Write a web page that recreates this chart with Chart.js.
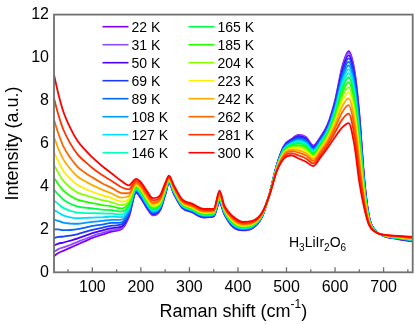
<!DOCTYPE html>
<html>
<head>
<meta charset="utf-8">
<script src="https://cdn.jsdelivr.net/npm/chart.js@4.4.0/dist/chart.umd.min.js"></script>
<style>
  html, body { margin: 0; padding: 0; background: #fff; }
  #wrap { position: relative; width: 415px; height: 324px; }
</style>
</head>
<body>
<div id="wrap"><canvas id="raman"></canvas></div>
<script>
// Raman shift grid (cm-1) shared by every spectrum
const shift = [21, 30, 40, 55, 70, 85, 100, 120, 140, 160, 175, 190, 200, 212, 225, 240, 250, 258, 268, 285,
  305, 330, 350, 362, 372, 390, 410, 430, 450, 465, 480, 495, 510, 525, 540, 555, 570, 585, 600, 615,
  628, 640, 650, 660, 670, 685, 700, 730, 760];

const temps = ["22 K", "31 K", "50 K", "69 K", "89 K", "108 K", "127 K", "146 K",
  "165 K", "185 K", "204 K", "223 K", "242 K", "262 K", "281 K", "300 K"];

const colors = ["#8000ff", "#8a4dff", "#4b00ff", "#1a3cff", "#0066ff", "#0099ff", "#00ddff", "#00ffbb",
  "#00ff44", "#22ff00", "#88ff00", "#ffee00", "#ffaa00", "#ff6600", "#ff3300", "#ff0000"];

const int22 = [0.75, 0.9, 1.0, 1.15, 1.3, 1.45, 1.6, 1.75, 1.9, 2.0, 2.55, 3.7, 3.45, 3.0, 2.65, 2.9, 3.6, 4.15, 3.65, 3.0,
  2.8, 2.55, 2.6, 3.25, 2.7, 2.1, 1.95, 2.05, 2.6, 3.65, 5.0, 5.9, 6.2, 6.4, 6.3, 5.9, 6.3, 6.9, 8.0, 9.6,
  10.3, 9.4, 7.4, 4.4, 2.6, 1.9, 1.7, 1.55, 1.45];
const int31 = [0.95, 1.08, 1.16, 1.28, 1.42, 1.55, 1.69, 1.83, 1.96, 2.05, 2.59, 3.72, 3.47, 3.02, 2.67, 2.92, 3.61, 4.16, 3.66, 3.01,
  2.81, 2.56, 2.61, 3.26, 2.71, 2.11, 1.96, 2.06, 2.6, 3.65, 4.99, 5.89, 6.18, 6.37, 6.27, 5.88, 6.28, 6.87, 7.96, 9.53,
  10.22, 9.32, 7.32, 4.37, 2.59, 1.9, 1.7, 1.55, 1.45];
const int50 = [1.25, 1.34, 1.38, 1.48, 1.58, 1.7, 1.82, 1.94, 2.06, 2.13, 2.64, 3.74, 3.49, 3.05, 2.7, 2.94, 3.63, 4.17, 3.67, 3.02,
  2.82, 2.57, 2.62, 3.28, 2.72, 2.13, 1.97, 2.07, 2.61, 3.65, 4.98, 5.86, 6.16, 6.34, 6.23, 5.84, 6.24, 6.84, 7.9, 9.43,
  10.1, 9.19, 7.21, 4.32, 2.58, 1.9, 1.7, 1.56, 1.46];
const int69 = [1.6, 1.65, 1.66, 1.71, 1.78, 1.88, 1.98, 2.07, 2.17, 2.23, 2.7, 3.77, 3.53, 3.08, 2.73, 2.97, 3.66, 4.19, 3.69, 3.04,
  2.84, 2.59, 2.64, 3.31, 2.74, 2.15, 1.99, 2.09, 2.62, 3.65, 4.97, 5.84, 6.12, 6.29, 6.18, 5.8, 6.2, 6.79, 7.83, 9.31,
  9.96, 9.05, 7.08, 4.26, 2.56, 1.9, 1.7, 1.57, 1.47];
const int89 = [2.0, 2.0, 1.96, 1.97, 2.01, 2.08, 2.16, 2.22, 2.3, 2.33, 2.77, 3.8, 3.56, 3.12, 2.77, 3.0, 3.68, 4.2, 3.71, 3.06,
  2.86, 2.61, 2.65, 3.33, 2.76, 2.17, 2.01, 2.1, 2.63, 3.64, 4.96, 5.81, 6.09, 6.24, 6.13, 5.76, 6.16, 6.74, 7.75, 9.18,
  9.8, 8.88, 6.93, 4.19, 2.54, 1.89, 1.71, 1.57, 1.48];
const int108 = [2.45, 2.39, 2.31, 2.27, 2.26, 2.3, 2.35, 2.39, 2.44, 2.45, 2.85, 3.83, 3.6, 3.16, 2.81, 3.04, 3.71, 4.22, 3.73, 3.08,
  2.88, 2.63, 2.67, 3.36, 2.78, 2.2, 2.03, 2.12, 2.64, 3.64, 4.94, 5.78, 6.05, 6.18, 6.07, 5.71, 6.11, 6.68, 7.66, 9.03,
  9.63, 8.7, 6.76, 4.12, 2.52, 1.89, 1.71, 1.58, 1.49];
const int127 = [2.9, 2.78, 2.65, 2.56, 2.52, 2.53, 2.55, 2.56, 2.59, 2.57, 2.93, 3.87, 3.64, 3.2, 2.85, 3.08, 3.74, 4.24, 3.75, 3.1,
  2.9, 2.65, 2.69, 3.39, 2.8, 2.23, 2.05, 2.14, 2.65, 3.64, 4.92, 5.75, 6.01, 6.12, 6.01, 5.66, 6.06, 6.62, 7.57, 8.88,
  9.45, 8.51, 6.59, 4.04, 2.5, 1.89, 1.71, 1.59, 1.5];
const int146 = [3.35, 3.18, 3.0, 2.86, 2.78, 2.76, 2.76, 2.74, 2.73, 2.69, 3.01, 3.9, 3.68, 3.25, 2.9, 3.12, 3.77, 4.26, 3.77, 3.12,
  2.92, 2.67, 2.71, 3.42, 2.82, 2.25, 2.07, 2.16, 2.66, 3.63, 4.91, 5.72, 5.97, 6.06, 5.95, 5.61, 6.01, 6.56, 7.48, 8.72,
  9.27, 8.32, 6.41, 3.97, 2.48, 1.88, 1.72, 1.6, 1.51];
const int165 = [3.85, 3.62, 3.39, 3.19, 3.06, 3.01, 2.98, 2.92, 2.89, 2.83, 3.1, 3.94, 3.73, 3.29, 2.94, 3.16, 3.8, 4.28, 3.8, 3.15,
  2.95, 2.7, 2.73, 3.45, 2.85, 2.28, 2.1, 2.18, 2.67, 3.63, 4.89, 5.68, 5.92, 6.0, 5.88, 5.55, 5.95, 6.5, 7.38, 8.55,
  9.07, 8.12, 6.23, 3.89, 2.45, 1.88, 1.72, 1.61, 1.52];
const int185 = [4.4, 4.1, 3.81, 3.55, 3.37, 3.29, 3.22, 3.13, 3.07, 2.97, 3.2, 3.98, 3.77, 3.35, 3.0, 3.2, 3.84, 4.3, 3.82, 3.17,
  2.97, 2.72, 2.75, 3.49, 2.87, 2.32, 2.12, 2.2, 2.69, 3.63, 4.87, 5.64, 5.88, 5.92, 5.8, 5.49, 5.89, 6.42, 7.27, 8.37,
  8.85, 7.89, 6.02, 3.8, 2.43, 1.88, 1.72, 1.61, 1.54];
const int204 = [5.0, 4.62, 4.27, 3.94, 3.71, 3.59, 3.49, 3.36, 3.26, 3.13, 3.3, 4.03, 3.83, 3.4, 3.05, 3.25, 3.88, 4.33, 3.85, 3.2,
  3.0, 2.75, 2.78, 3.53, 2.9, 2.35, 2.15, 2.23, 2.7, 3.62, 4.85, 5.6, 5.82, 5.85, 5.72, 5.42, 5.82, 6.35, 7.14, 8.17,
  8.61, 7.64, 5.79, 3.7, 2.4, 1.87, 1.73, 1.63, 1.55];
const int223 = [5.6, 5.15, 4.73, 4.34, 4.06, 3.89, 3.75, 3.59, 3.45, 3.29, 3.41, 4.07, 3.88, 3.46, 3.11, 3.3, 3.92, 4.35, 3.88, 3.23,
  3.03, 2.78, 2.8, 3.57, 2.93, 2.39, 2.18, 2.25, 2.71, 3.62, 4.83, 5.56, 5.77, 5.77, 5.64, 5.35, 5.75, 6.27, 7.02, 7.96,
  8.38, 7.39, 5.56, 3.6, 2.37, 1.87, 1.73, 1.64, 1.56];
const int242 = [6.3, 5.76, 5.27, 4.8, 4.45, 4.24, 4.06, 3.85, 3.67, 3.48, 3.54, 4.13, 3.94, 3.53, 3.18, 3.36, 3.96, 4.38, 3.91, 3.26,
  3.06, 2.81, 2.83, 3.61, 2.96, 2.43, 2.21, 2.28, 2.73, 3.62, 4.8, 5.51, 5.71, 5.68, 5.54, 5.28, 5.68, 6.18, 6.88, 7.73,
  8.1, 7.1, 5.3, 3.48, 2.34, 1.87, 1.73, 1.65, 1.58];
const int262 = [7.1, 6.46, 5.88, 5.32, 4.9, 4.64, 4.42, 4.15, 3.93, 3.69, 3.68, 4.19, 4.01, 3.6, 3.25, 3.43, 4.01, 4.41, 3.95, 3.3,
  3.1, 2.85, 2.86, 3.66, 3.0, 2.48, 2.25, 2.31, 2.75, 3.61, 4.77, 5.45, 5.64, 5.57, 5.44, 5.19, 5.59, 6.07, 6.72, 7.46,
  7.78, 6.77, 5.0, 3.35, 2.3, 1.86, 1.74, 1.66, 1.6];
const int281 = [8.1, 7.34, 6.66, 5.98, 5.48, 5.15, 4.86, 4.53, 4.25, 3.96, 3.86, 4.27, 4.1, 3.7, 3.35, 3.51, 4.08, 4.45, 4.0, 3.35,
  3.15, 2.9, 2.9, 3.73, 3.05, 2.54, 2.3, 2.35, 2.77, 3.61, 4.74, 5.38, 5.55, 5.44, 5.3, 5.07, 5.47, 5.94, 6.52, 7.12,
  7.39, 6.35, 4.62, 3.18, 2.25, 1.86, 1.74, 1.68, 1.62];
const int300 = [9.2, 8.3, 7.5, 6.7, 6.1, 5.7, 5.35, 4.95, 4.6, 4.25, 4.05, 4.35, 4.2, 3.8, 3.45, 3.6, 4.15, 4.5, 4.05, 3.4,
  3.2, 2.95, 2.95, 3.8, 3.1, 2.6, 2.35, 2.4, 2.8, 3.6, 4.7, 5.3, 5.45, 5.3, 5.15, 4.95, 5.35, 5.8, 6.3, 6.75,
  6.95, 5.9, 4.2, 3.0, 2.2, 1.85, 1.75, 1.7, 1.65];

const spectra = [int22, int31, int50, int69, int89, int108, int127, int146,
  int165, int185, int204, int223, int242, int262, int281, int300];

const xTicks = [100, 200, 300, 400, 500, 600, 700];
const xMinorTicks = [50, 150, 250, 350, 450, 550, 650, 750];
const yTicks = [0, 2, 4, 6, 8, 10, 12];

const FONT = "'Liberation Sans', Arial, sans-serif";

// datasets in reverse so the hottest spectrum ends up drawn on top
const datasets = spectra.map((vals, i) => ({
  label: temps[i],
  data: vals.map((v, j) => ({ x: shift[j], y: v })),
  borderColor: colors[i],
  backgroundColor: colors[i],
  borderWidth: 1.8,
  pointRadius: 0,
  cubicInterpolationMode: "monotone",
})).reverse();

const decorPlugin = {
  id: "decor",
  afterDraw(chart) {
    const { ctx, chartArea: a, scales: { x } } = chart;
    ctx.save();

    // frame
    ctx.strokeStyle = "#707070";
    ctx.lineWidth = 1.8;
    ctx.strokeRect(a.left, a.top, a.right - a.left, a.bottom - a.top);

    // inward ticks on the bottom axis
    ctx.lineWidth = 1.3;
    ctx.beginPath();
    xTicks.forEach((v) => {
      const px = x.getPixelForValue(v);
      ctx.moveTo(px, a.bottom);
      ctx.lineTo(px, a.bottom - 5);
    });
    xMinorTicks.forEach((v) => {
      const px = x.getPixelForValue(v);
      ctx.moveTo(px, a.bottom);
      ctx.lineTo(px, a.bottom - 3);
    });
    ctx.stroke();

    // legend, two columns of eight
    ctx.font = "14px " + FONT;
    ctx.fillStyle = "#000";
    ctx.textBaseline = "middle";
    ctx.textAlign = "left";
    temps.forEach((t, i) => {
      const col = Math.floor(i / 8);
      const row = i % 8;
      const lx = col === 0 ? 102.5 : 188.5;
      const ly = 26.7 + row * 18;
      ctx.strokeStyle = colors[i];
      ctx.lineWidth = 1.6;
      ctx.beginPath();
      ctx.moveTo(lx, ly);
      ctx.lineTo(lx + 26, ly);
      ctx.stroke();
      ctx.fillText(t, lx + 29, ly + 1);
    });

    // sample label H3LiIr2O6
    let tx = 289;
    const ty = 247;
    const parts = [["H", 0], ["3", 1], ["LiIr", 0], ["2", 1], ["O", 0], ["6", 1]];
    ctx.textBaseline = "alphabetic";
    parts.forEach(([s, sub]) => {
      ctx.font = (sub ? "10px " : "14px ") + FONT;
      ctx.fillText(s, tx, ty + (sub ? 3.5 : 0));
      tx += ctx.measureText(s).width;
    });

    // axis titles
    ctx.font = "18px " + FONT;
    ctx.textBaseline = "middle";
    const main = "Raman shift (cm";
    const sup = "-1";
    const close = ")";
    const wMain = ctx.measureText(main).width;
    const wClose = ctx.measureText(close).width;
    ctx.font = "12px " + FONT;
    const wSup = ctx.measureText(sup).width;
    const total = wMain + wSup + wClose;
    let sx = (a.left + a.right) / 2 - total / 2;
    const sy = 312;
    ctx.font = "18px " + FONT;
    ctx.fillText(main, sx, sy);
    sx += wMain;
    ctx.font = "12px " + FONT;
    ctx.fillText(sup, sx, sy - 7);
    sx += wSup;
    ctx.font = "18px " + FONT;
    ctx.fillText(close, sx, sy);

    ctx.save();
    ctx.translate(13, (a.top + a.bottom) / 2);
    ctx.rotate(-Math.PI / 2);
    ctx.textAlign = "center";
    ctx.fillText("Intensity (a.u.)", 0, 0);
    ctx.restore();

    ctx.restore();
  },
};

new Chart(document.getElementById("raman"), {
  type: "line",
  data: { datasets },
  options: {
    responsive: true,
    maintainAspectRatio: false,
    animation: false,
    events: [],
    layout: { padding: { top: 7.5, right: 2.3, left: 0, bottom: 0 } },
    plugins: {
      legend: { display: false },
      tooltip: { enabled: false },
    },
    scales: {
      x: {
        type: "linear",
        min: 21,
        max: 760,
        grid: { display: false, drawTicks: false },
        border: { display: false },
        afterBuildTicks: (scale) => {
          scale.ticks = xTicks.map((v) => ({ value: v }));
        },
        afterFit: (scale) => {
          scale.height = 51.7;
        },
        ticks: {
          color: "#000",
          padding: 6,
          maxRotation: 0,
          font: { family: FONT, size: 16 },
        },
      },
      y: {
        min: 0,
        max: 12,
        grid: { display: false, drawTicks: false },
        border: { display: false },
        afterBuildTicks: (scale) => {
          scale.ticks = yTicks.map((v) => ({ value: v }));
        },
        afterFit: (scale) => {
          scale.width = 54;
        },
        ticks: {
          color: "#000",
          padding: 5,
          font: { family: FONT, size: 16 },
        },
      },
    },
  },
  plugins: [decorPlugin],
});
</script>
</body>
</html>
